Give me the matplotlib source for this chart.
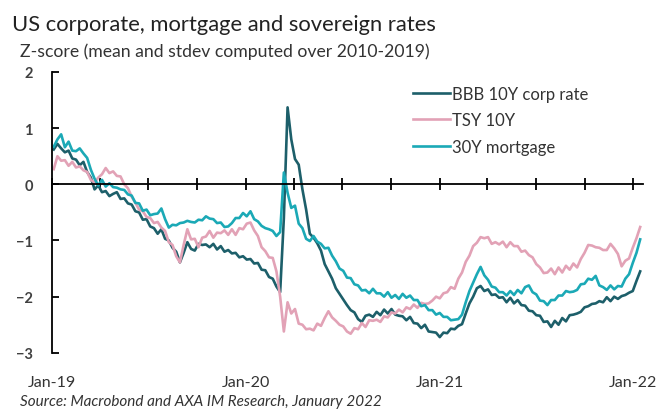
import matplotlib
matplotlib.use("Agg")
import matplotlib.pyplot as plt
import matplotlib.dates as mdates
import pandas as pd

plt.rcParams['font.family'] = ['Lato', 'DejaVu Sans']

# weekly observations, z-scores vs 2010-2019
dates = pd.date_range("2019-01-04", periods=159, freq="7D")

bbb_10y = [
    0.62, 0.72, 0.64, 0.57, 0.60, 0.46, 0.44, 0.34, 0.40, 0.22,
    0.12, -0.09, -0.02, -0.14, -0.12, -0.21, -0.17, -0.14, -0.26, -0.25,
    -0.34, -0.36, -0.48, -0.50, -0.63, -0.62, -0.75, -0.78, -0.88, -0.80,
    -0.97, -1.00, -1.13, -1.20, -1.39, -1.22, -1.03, -1.15, -1.18, -1.06,
    -1.08, -1.07, -1.12, -1.06, -1.16, -1.10, -1.20, -1.17, -1.23, -1.22,
    -1.30, -1.28, -1.34, -1.33, -1.41, -1.40, -1.52, -1.53, -1.65, -1.68,
    -1.82, -1.92, -0.60, 1.37, 0.80, 0.45, 0.35, -0.09, -0.45, -0.88,
    -0.95, -1.05, -1.18, -1.42, -1.55, -1.68, -1.85, -1.95, -2.05, -2.15,
    -2.24, -2.28, -2.40, -2.45, -2.34, -2.32, -2.36, -2.27, -2.33, -2.23,
    -2.30, -2.22, -2.32, -2.34, -2.35, -2.42, -2.36, -2.47, -2.48, -2.56,
    -2.50, -2.62, -2.63, -2.64, -2.72, -2.64, -2.65, -2.57, -2.58, -2.52,
    -2.49, -2.30, -2.12, -2.00, -1.85, -1.81, -1.90, -1.87, -1.97, -1.96,
    -2.02, -2.01, -2.10, -2.02, -2.12, -2.06, -2.15, -2.16, -2.25, -2.26,
    -2.33, -2.34, -2.45, -2.44, -2.54, -2.43, -2.50, -2.38, -2.44, -2.33,
    -2.32, -2.30, -2.27, -2.19, -2.17, -2.13, -2.12, -2.08, -2.10, -2.01,
    -2.08, -2.00, -2.04, -1.99, -1.97, -1.93, -1.90, -1.72, -1.55,
]

tsy_10y = [
    0.27, 0.50, 0.42, 0.43, 0.33, 0.40, 0.30, 0.32, 0.25, 0.22,
    0.08, 0.03, 0.12, 0.18, 0.29, 0.20, 0.23, 0.15, 0.14, 0.00,
    -0.07, -0.22, -0.33, -0.45, -0.48, -0.58, -0.60, -0.69, -0.67, -0.77,
    -0.83, -1.03, -1.08, -1.28, -1.39, -1.08, -0.80, -0.98, -0.97, -1.12,
    -0.95, -0.93, -0.83, -0.95, -0.86, -0.87, -0.82, -0.90, -0.80, -0.90,
    -0.78, -0.80, -0.70, -0.68, -0.82, -0.92, -1.12, -1.19, -1.30, -1.31,
    -1.55, -2.00, -2.62, -2.10, -2.30, -2.22, -2.48, -2.50, -2.58, -2.57,
    -2.60, -2.48, -2.52, -2.38, -2.26, -2.37, -2.43, -2.50, -2.53, -2.62,
    -2.66, -2.56, -2.58, -2.47, -2.54, -2.42, -2.43, -2.41, -2.45, -2.35,
    -2.37, -2.28, -2.30, -2.23, -2.28, -2.19, -2.22, -2.14, -2.20, -2.11,
    -2.13, -2.12, -2.07, -2.00, -2.03, -1.94, -1.92, -1.83, -1.86, -1.68,
    -1.57, -1.38, -1.27, -1.10, -1.04, -0.94, -0.96, -0.94, -1.06, -1.03,
    -1.07, -1.02, -1.12, -1.03, -1.10, -1.10, -1.20, -1.18, -1.26, -1.30,
    -1.42, -1.48, -1.58, -1.57, -1.50, -1.60, -1.48, -1.57, -1.45, -1.52,
    -1.41, -1.48, -1.33, -1.22, -1.08, -1.09, -1.12, -1.13, -1.17, -1.17,
    -1.06, -1.14, -1.24, -1.46, -1.36, -1.32, -1.13, -0.96, -0.76,
]

mortgage_30y = [
    0.67, 0.80, 0.89, 0.66, 0.76, 0.60, 0.59, 0.64, 0.55, 0.47,
    0.26, 0.10, -0.02, 0.08, -0.04, 0.02, -0.05, -0.06, -0.09, -0.10,
    -0.18, -0.20, -0.33, -0.34, -0.47, -0.45, -0.55, -0.53, -0.52, -0.43,
    -0.62, -0.77, -0.72, -0.73, -0.69, -0.68, -0.65, -0.67, -0.68, -0.63,
    -0.64, -0.57, -0.61, -0.62, -0.69, -0.68, -0.76, -0.75, -0.69, -0.60,
    -0.60, -0.51, -0.57, -0.48, -0.62, -0.66, -0.74, -0.78, -0.80, -0.83,
    -0.92, -0.85, 0.21, -0.15, -0.42, -0.38, -0.70, -0.78, -0.97, -1.01,
    -0.92, -1.02, -1.06, -1.14, -1.13, -1.27, -1.37, -1.50, -1.54, -1.66,
    -1.67, -1.78, -1.80, -1.89, -1.88, -1.94, -1.86, -1.94, -1.94, -2.00,
    -1.92, -2.02, -1.97, -2.04, -1.95, -2.02, -1.98, -2.06, -2.06, -2.17,
    -2.15, -2.24, -2.24, -2.32, -2.29, -2.36, -2.36, -2.42, -2.41, -2.40,
    -2.32, -2.10, -1.90, -1.75, -1.60, -1.47, -1.62, -1.70, -1.82, -1.84,
    -1.92, -1.92, -1.98, -1.90, -1.97, -1.88, -1.94, -1.83, -1.80, -1.92,
    -1.96, -2.07, -2.08, -2.15, -2.06, -2.06, -1.98, -1.98, -1.90, -1.92,
    -1.91, -1.88, -1.78, -1.77, -1.68, -1.70, -1.63, -1.80, -1.83, -1.88,
    -1.80, -1.87, -1.81, -1.82, -1.68, -1.60, -1.40, -1.22, -0.98,
]

series = [
    ("BBB 10Y corp rate", bbb_10y, "#1d5f6a"),
    ("TSY 10Y", tsy_10y, "#e2a2b6"),
    ("30Y mortgage", mortgage_30y, "#1ba9b6"),
]

fig = plt.figure(figsize=(6.6, 4.1), dpi=100)
ax = fig.add_axes([0.079, 0.137, 0.895, 0.685])

for label, vals, col in series:
    ax.plot(dates, vals, color=col, lw=1.9, label=label)

ax.set_xlim(pd.Timestamp("2019-01-01"), pd.Timestamp("2022-01-19"))
ax.set_ylim(-3, 2)

# x axis sits on zero, quarterly ticks crossing it
for s in ["top", "right"]:
    ax.spines[s].set_visible(False)
ax.spines["bottom"].set_position(("data", 0))
ax.spines["bottom"].set_linewidth(1.3)
ax.spines["left"].set_linewidth(1.3)
ax.xaxis.set_major_locator(mdates.MonthLocator(bymonth=[1, 4, 7, 10]))
ax.tick_params(axis="x", direction="inout", length=9, width=1.3, labelbottom=False)
ax.tick_params(axis="y", direction="in", length=5, width=1.3, pad=14,
               labelsize=10.5, labelcolor="#404040")
ax.set_yticks([-3, -2, -1, 0, 1, 2])
for t in ax.get_yticklabels():
    t.set_fontweight("bold")

for yr in ["2019", "2020", "2021", "2022"]:
    ax.text(pd.Timestamp(yr + "-01-01"), -0.103, "Jan-" + yr[2:],
            transform=ax.get_xaxis_transform(), ha="center", va="center",
            fontsize=11.5, color="#333333")

ax.legend(loc="upper left", bbox_to_anchor=(0.60, 0.974), frameon=False,
          fontsize=12, handlelength=2.2, handletextpad=0.1,
          labelspacing=0.62, borderaxespad=0.0)
for t in ax.get_legend().get_texts():
    t.set_color("#333333")

fig.text(0.018, 0.939, "US corporate, mortgage and sovereign rates",
         fontsize=15.8, va="center", color="#222222")
fig.text(0.030, 0.873, "Z-score (mean and stdev computed over 2010-2019)",
         fontsize=12.7, va="center", color="#333333")
fig.text(0.030, 0.02, "Source: Macrobond and AXA IM Research, January 2022",
         fontsize=11, style="italic", va="center", color="#333333")

fig.savefig("out.png", dpi=100)
